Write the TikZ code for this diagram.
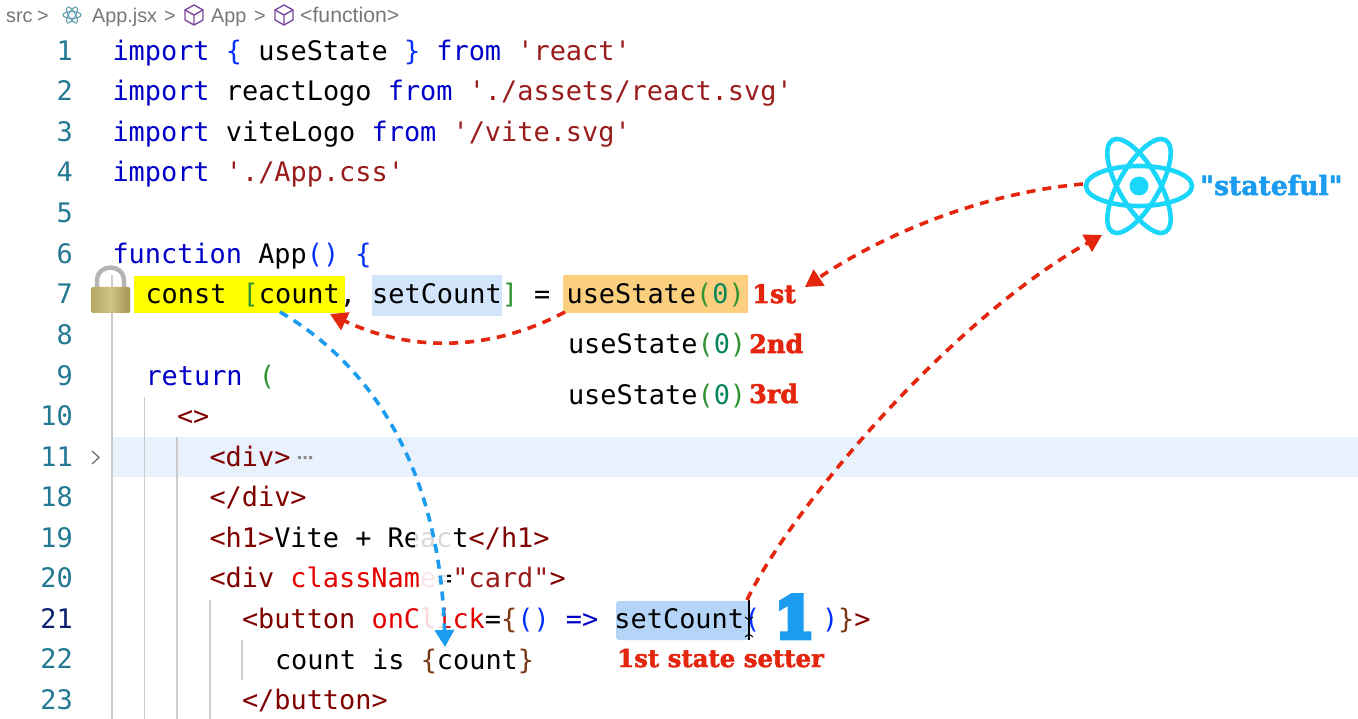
\documentclass[tikz,border=0pt]{standalone}
\usepackage{fontspec}
\usetikzlibrary{arrows.meta}
\setmainfont{Liberation Sans}
\setmonofont{DejaVu Sans Mono}
\newfontfamily\slabfont[FakeBold=2]{DejaVu Serif Bold}
\newfontfamily\slabheavy[FakeBold=10]{DejaVu Serif Bold}
\definecolor{kw}{HTML}{0000C8}
\definecolor{brk}{HTML}{0431FA}
\definecolor{grn}{HTML}{319331}
\definecolor{brn}{HTML}{7B3814}
\definecolor{mar}{HTML}{800000}
\definecolor{strg}{HTML}{9A1B1B}
\definecolor{attr}{HTML}{E50000}
\definecolor{num}{HTML}{098658}
\definecolor{lnum}{HTML}{237893}
\definecolor{lnact}{HTML}{0B216F}
\definecolor{redmark}{HTML}{E5260F}
\definecolor{bluemark}{HTML}{1B9CF0}
\definecolor{reactc}{HTML}{1AD6FB}
\definecolor{cubec}{HTML}{7B4A9E}
\definecolor{crumb}{HTML}{777777}
\definecolor{hlline}{HTML}{E8F1FC}
\definecolor{hlsel}{HTML}{D2E5FB}
\definecolor{hlset}{HTML}{B4D5F8}
\definecolor{hlorange}{HTML}{FBCF7E}
\definecolor{hlyellow}{HTML}{FFFF00}
\definecolor{lockL}{HTML}{B5A864}
\definecolor{lockM}{HTML}{CFC384}
\definecolor{lockR}{HTML}{A39552}
\definecolor{shackle}{HTML}{B4B4B0}
\newcommand\kw[1]{\textcolor{kw}{#1}}
\newcommand\bk[1]{\textcolor{brk}{#1}}
\newcommand\gn[1]{\textcolor{grn}{#1}}
\newcommand\bn[1]{\textcolor{brn}{#1}}
\newcommand\mr[1]{\textcolor{mar}{#1}}
\newcommand\sg[1]{\textcolor{strg}{#1}}
\newcommand\at[1]{\textcolor{attr}{#1}}
\newcommand\nm[1]{\textcolor{num}{#1}}
\tikzset{
  code/.style={anchor=base west,inner sep=0pt,outer sep=0pt,text=black,font=\fontsize{26.9}{30}\ttfamily},
  lineno/.style={anchor=base east,inner sep=0pt,text=lnum,font=\fontsize{26.9}{30}\ttfamily},
  crumbtxt/.style={anchor=base west,inner sep=0pt,text=crumb,font=\fontsize{19.8}{22}\selectfont},
  slabred/.style={anchor=base west,inner sep=0pt,text=redmark,font=\fontsize{25.5}{28}\slabfont},
  arrowred/.style={draw=redmark,line width=3.6pt,dash pattern=on 9pt off 7pt,-{Triangle[length=17pt,width=19pt,fill=redmark]}},
  arrowblue/.style={draw=bluemark,line width=3.6pt,dash pattern=on 9pt off 7pt,-{Triangle[length=17pt,width=19pt,fill=bluemark]}},
  guide/.style={draw=black!20,line width=1.3pt},
  cube/.style={draw=cubec,line width=1.4pt,line join=round},
}
\newcommand\cubeicon[2]{%
  \draw[cube] (#1,#2-10) -- (#1+9,#2-5) -- (#1+9,#2+5) -- (#1,#2+10) -- (#1-9,#2+5) -- (#1-9,#2-5) -- cycle;
  \draw[cube] (#1-9,#2-5) -- (#1,#2) -- (#1+9,#2-5) (#1,#2) -- (#1,#2+10);
}
\begin{document}
\begin{tikzpicture}[x=1pt,y=-1pt]
\useasboundingbox (0,0) rectangle (1358,719);
\fill[white] (0,0) rectangle (1358,719);
% highlights
\fill[hlline] (113,437) rectangle (1358,477);
\fill[hlyellow] (134,276) rectangle (345,313);
\fill[hlsel] (372,275) rectangle (502,316);
\fill[hlorange,rounded corners=1pt] (563,275) rectangle (748,313);
\fill[hlset,rounded corners=3pt] (616,601) rectangle (750,640);
% guides
\draw[guide] (112,275) -- (112,719);
\draw[guide] (144.5,397) -- (144.5,719);
\draw[guide] (177,437) -- (177,719);
\draw[guide] (210,600) -- (210,719);
\draw[guide] (242,640) -- (242,680);
% breadcrumb
\node[crumbtxt] (bsrc) at (6,23) {src};
\node[crumbtxt] (bsep1) at (37,23) {>};
\begin{scope}[shift={(72,15)},draw=cubec!40!cyan!50!gray,line width=1pt]
  \draw[rotate=0] (0,0) ellipse (9 and 3.4);
  \draw[rotate=60] (0,0) ellipse (9 and 3.4);
  \draw[rotate=120] (0,0) ellipse (9 and 3.4);
\end{scope}
\node[crumbtxt] (bfile) at (92,23) {App.jsx};
\node[crumbtxt] (bsep2) at (164,23) {>};
\cubeicon{194}{15}
\node[crumbtxt] (bapp) at (211,23) {App};
\node[crumbtxt] (bsep3) at (254,23) {>};
\cubeicon{284}{15}
\node[crumbtxt,font=\fontsize{21.2}{24}\selectfont] (bfn) at (300,23) {<function>};
% line numbers
\node[lineno] (n1) at (73,61) {1};
\node[lineno] (n2) at (73,101) {2};
\node[lineno] (n3) at (73,142) {3};
\node[lineno] (n4) at (73,182) {4};
\node[lineno] (n5) at (73,223) {5};
\node[lineno] (n6) at (73,263.5) {6};
\node[lineno] (n7) at (73,304) {7};
\node[lineno] (n8) at (73,344.5) {8};
\node[lineno] (n9) at (73,385) {9};
\node[lineno] (n10) at (73,425.5) {10};
\node[lineno] (n11) at (73,466) {11};
\node[lineno] (n18) at (73,506.5) {18};
\node[lineno] (n19) at (73,547) {19};
\node[lineno] (n20) at (73,587.5) {20};
\node[lineno,text=lnact] (n21) at (73,628) {21};
\node[lineno] (n22) at (73,668.5) {22};
\node[lineno] (n23) at (73,709) {23};
% fold chevron
\draw[black!55,line width=1.3pt] (92,451) -- (99,457.5) -- (92,464);
% code
\node[code] (l1) at (112.5,61) {\kw{import} \bk{\{} useState \bk{\}} \kw{from} \sg{'react'}};
\node[code] (l2) at (112.5,101) {\kw{import} reactLogo \kw{from} \sg{'./assets/react.svg'}};
\node[code] (l3) at (112.5,142) {\kw{import} viteLogo \kw{from} \sg{'/vite.svg'}};
\node[code] (l4) at (112.5,182) {\kw{import} \sg{'./App.css'}};
\node[code] (l6) at (112.5,263.5) {\kw{function} App\bk{()} \bk{\{}};
\node[code] (l7) at (145.5,304) {const \gn{[}count, setCount\gn{]} = useState\gn{(}\nm{0}\gn{)}};
\node[code] (u2) at (568,354) {useState\gn{(}\nm{0}\gn{)}};
\node[code] (u3) at (568,404) {useState\gn{(}\nm{0}\gn{)}};
\node[code] (l9) at (145.5,385) {\kw{return} \gn{(}};
\node[code] (l10) at (177,425.5) {\mr{<>}};
\node[code] (l11) at (209.5,466) {\mr{<div>}};
\node[code] (l18) at (209.5,506.5) {\mr{</div>}};
\node[code] (l19) at (209.5,547) {\mr{<h1>}Vite + React\mr{</h1>}};
\node[code] (l20) at (209.5,587.5) {\mr{<div} \at{className}=\sg{"card"}\mr{>}};
\node[code] (l21) at (242,628.5) {\mr{<button} \at{onClick}=\bn{\{}\bk{()} \textcolor{kw}{=>} setCount\bk{(}};
\node[code] (l21b) at (822,628.5) {\bk{)}\bn{\}}\mr{>}};
\node[code] (l22) at (275,669) {count is \bn{\{}count\bn{\}}};
\node[code] (l23) at (242,709.5) {\mr{</button>}};
% fold ellipsis
\fill[black!45] (298,456) rectangle (301,459) (303.5,456) rectangle (306.5,459) (309,456) rectangle (312,459);
% white hazes over text
\fill[white,opacity=.85] (415,525) rectangle (452,553);
\fill[white,opacity=.9] (420,566) rectangle (447,592);
\fill[white,opacity=.85] (420,606) rectangle (443,634);
% lock
\draw[shackle,line width=4.5pt] (97,288) -- (97,281) .. controls (97,263) and (124,263) .. (124,281) -- (124,288);
\shade[left color=lockL,right color=lockR,middle color=lockM,rounded corners=1.5pt] (91,287) rectangle (130,313);
% logo
\begin{scope}[shift={(1139,186)}]
  \draw[reactc,line width=4.6pt] (0,0) ellipse (53 and 20);
  \draw[reactc,line width=4.6pt,rotate=60] (0,0) ellipse (53 and 20);
  \draw[reactc,line width=4.6pt,rotate=120] (0,0) ellipse (53 and 20);
  \fill[reactc] (0,0) circle (9.5);
\end{scope}
\coordinate (logoL) at (1083,184);
\coordinate (logoB) at (1102,235);
% labels
\node[slabred] (t1) at (752,303) {1st};
\node[slabred] (t2) at (749,353) {2nd};
\node[slabred] (t3) at (749,403) {3rd};
\node[slabred,font=\fontsize{24.4}{26}\slabfont] (tset) at (617,667) {1st state setter};
\node[slabred,text=bluemark,font=\fontsize{26.6}{28}\slabfont] (tstate) at (1200,195) {"stateful"};
\node[slabred,text=bluemark,font=\fontsize{56}{60}\slabheavy] (big1) at (775,637.5) {1};
% cursor
\draw[black,line width=1.6pt] (749,600) -- (749,640);
\draw[black,line width=1pt] (745,617) -- (749,620) -- (753,617) (745,637) -- (749,634) -- (753,637);
% connectors
\coordinate (orangeL) at (565,312);
\coordinate (yellowB) at (330,314);
\coordinate (countB) at (280,312);
\coordinate (labelT) at (805,287);
\coordinate (setterT) at (747,600);
\coordinate (countT) at (445,647);
\draw[arrowred] (logoL) .. controls (990,192) and (890,230) .. (labelT);
\draw[arrowred] (orangeL) .. controls (490,352) and (410,352) .. (yellowB);
\draw[arrowred] (setterT) .. controls (790,510) and (950,320) .. (logoB);
\draw[arrowblue] (countB) .. controls (380,370) and (440,480) .. (countT);
\end{tikzpicture}
\end{document}
